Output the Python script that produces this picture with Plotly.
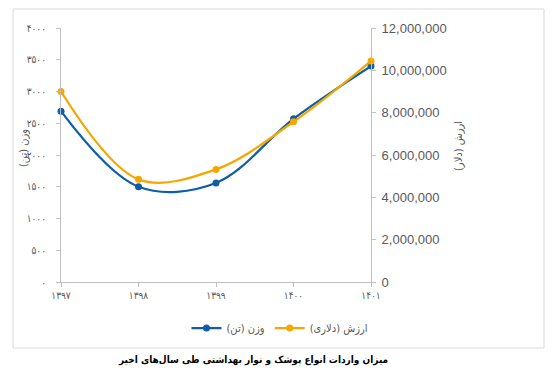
import plotly.graph_objects as go

years = ['۱۳۹۷', '۱۳۹۸', '۱۳۹۹', '۱۴۰۰', '۱۴۰۱']
weight_tons = [2690, 1500, 1560, 2570, 3400]
value_usd = [9000000, 4850000, 5320000, 7570000, 10440000]
left_ticks = [0, 500, 1000, 1500, 2000, 2500, 3000, 3500, 4000]
left_tick_labels = ['۰', '۵۰۰', '۱۰۰۰', '۱۵۰۰', '۲۰۰۰', '۲۵۰۰', '۳۰۰۰', '۳۵۰۰', '۴۰۰۰']

BLUE = '#0E5EA6'
ORANGE = '#F7A600'
GRAY_TXT = '#595959'
AX = '#BFBFBF'
FA = 'DejaVu Sans Condensed, DejaVu Sans'

fig = go.Figure()
fig.add_trace(go.Scatter(
    x=years, y=weight_tons, name='وزن (تن)', mode='lines+markers',
    line=dict(color=BLUE, width=2.25, shape='spline', smoothing=1.0),
    marker=dict(size=7, color=BLUE), cliponaxis=False, yaxis='y'))
fig.add_trace(go.Scatter(
    x=years, y=value_usd, name='ارزش (دلاری)', mode='lines+markers',
    line=dict(color=ORANGE, width=2.25, shape='spline', smoothing=1.0),
    marker=dict(size=7, color=ORANGE), cliponaxis=False, yaxis='y2'))

# page body has an 8px margin; work in page coordinates and shift
OFF = 8
W, H = 556 - OFF, 377 - OFF
L, R, T, B = 61 - OFF, 371 - OFF, 28 - OFF, 282 - OFF
pw, ph = R - L, B - T

def px(x):
    return (x - OFF - L) / pw

def py(y):
    return (B - (y - OFF)) / ph

fig.update_layout(
    width=W, height=H,
    margin=dict(l=L, r=W - R, t=T, b=H - B, autoexpand=False),
    paper_bgcolor='white', plot_bgcolor='white',
    showlegend=True,
    legend=dict(orientation='h', x=px(280), xanchor='center', y=py(328), yanchor='middle',
                font=dict(family=FA, size=11, color=GRAY_TXT), itemwidth=30,
                traceorder='normal', bgcolor='rgba(0,0,0,0)'),
    xaxis=dict(type='category', range=[0, 4], showline=True, linecolor=AX, linewidth=1,
               ticks='outside', ticklen=4, tickcolor=AX, showgrid=False, zeroline=False,
               tickfont=dict(family=FA, size=10, color=GRAY_TXT)),
    yaxis=dict(range=[0, 4000], tickvals=left_ticks, ticktext=left_tick_labels,
               showline=True, linecolor=AX, linewidth=1, ticks='outside', ticklen=4,
               tickcolor=AX, showgrid=False, zeroline=False, ticklabelstandoff=8,
               tickfont=dict(family=FA, size=10, color=GRAY_TXT)),
    yaxis2=dict(range=[0, 12000000], dtick=2000000, tickformat=',d', overlaying='y',
                side='right', showline=True, linecolor=AX, linewidth=1, ticks='outside',
                ticklen=4, tickcolor=AX, showgrid=False, zeroline=False, ticklabelstandoff=3,
                tickfont=dict(family='Liberation Sans', size=13, color=GRAY_TXT)),
    font=dict(family=FA),
)

fig.add_shape(type='rect', xref='paper', yref='paper',
              x0=px(13), x1=px(544), y0=py(348), y1=py(9),
              line=dict(color='#D9D9D9', width=1), fillcolor='rgba(0,0,0,0)', layer='below')

fig.add_annotation(text='وزن (تن)', xref='paper', yref='paper', x=px(23), y=py(148),
                   xanchor='center', yanchor='middle',
                   textangle=-90, showarrow=False, font=dict(family=FA, size=11, color=GRAY_TXT))
fig.add_annotation(text='ارزش (دلار)', xref='paper', yref='paper', x=px(458), y=py(146),
                   xanchor='center', yanchor='middle',
                   textangle=-90, showarrow=False, font=dict(family=FA, size=11, color=GRAY_TXT))
fig.add_annotation(text='<b>میزان واردات انواع پوشک و نوار بهداشتی طی سال‌های اخیر</b>',
                   xref='paper', yref='paper', x=px(253), y=py(360), showarrow=False,
                   xanchor='center', yanchor='middle',
                   font=dict(family=FA, size=10, color='black'))

fig.write_html('out.html')
